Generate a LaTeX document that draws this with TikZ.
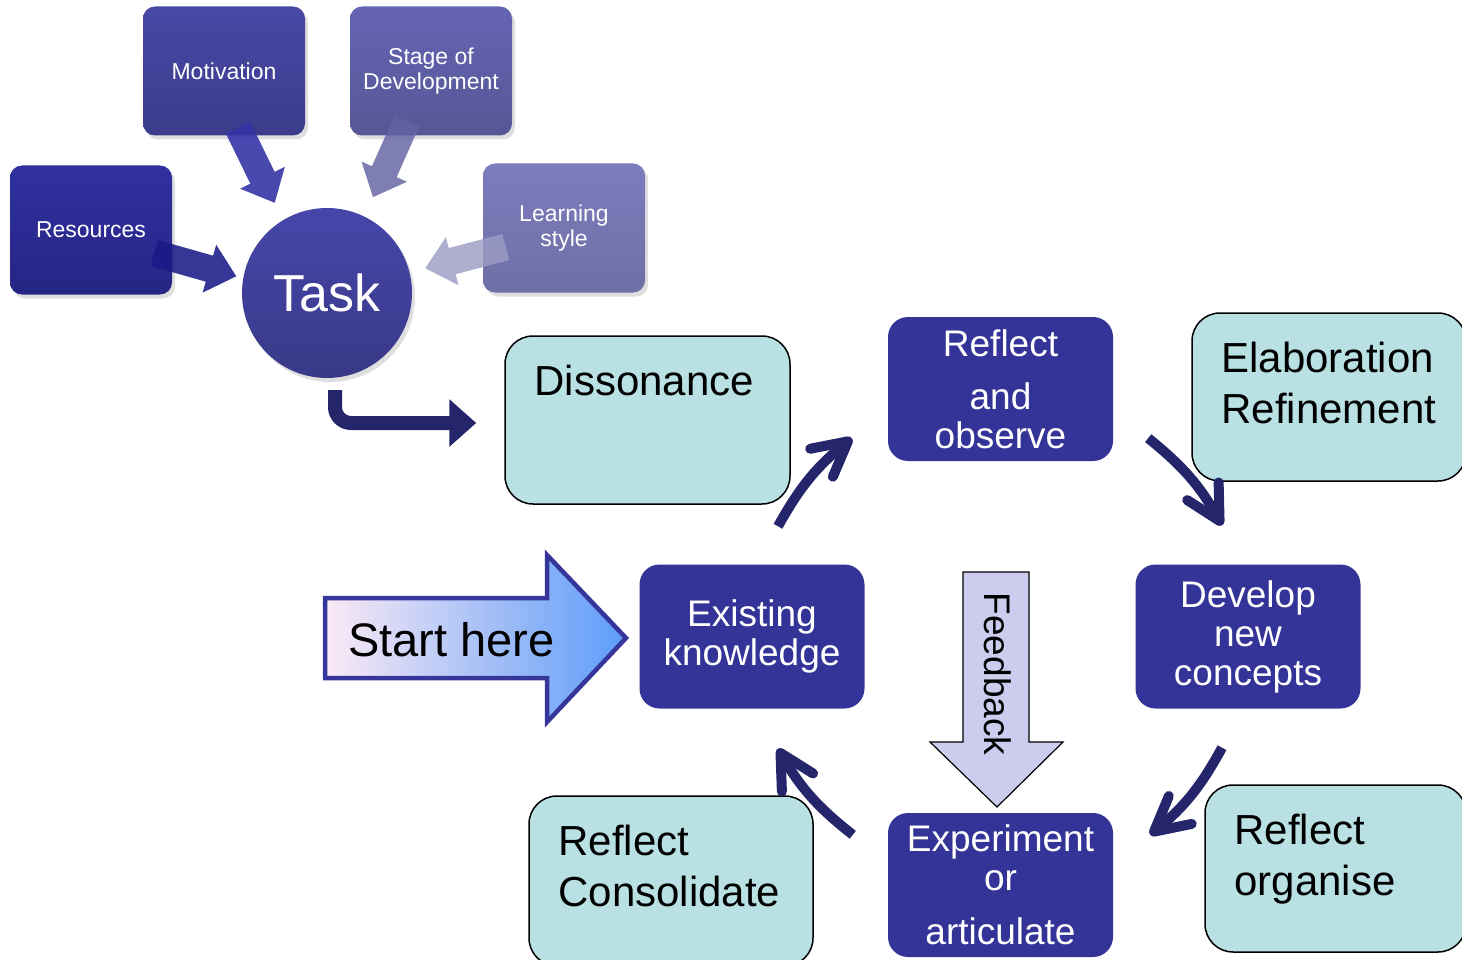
\documentclass[tikz,border=0pt]{standalone}
\usepackage{fontspec}
\setmainfont{Liberation Sans}
\usepackage{xcolor}
\usepackage{tikz}
\usetikzlibrary{positioning, arrows.meta, shadows}

\definecolor{navyarrow}{HTML}{25256B}
\definecolor{boxblue}{HTML}{343498}
\definecolor{tealfill}{HTML}{B9E0E3}
\definecolor{feedfill}{HTML}{CCCCEE}
\definecolor{startpink}{HTML}{FCEAF6}
\definecolor{startmid}{HTML}{8CC6FA}
\definecolor{startblue}{HTML}{5C9CF8}
\definecolor{startedge}{HTML}{35359A}
\definecolor{restop}{HTML}{3030A0}
\definecolor{resbot}{HTML}{252585}
\definecolor{mottop}{HTML}{4848A6}
\definecolor{motbot}{HTML}{3C3C8C}
\definecolor{stagetop}{HTML}{6464B4}
\definecolor{stagebot}{HTML}{575796}
\definecolor{learntop}{HTML}{7C7CBE}
\definecolor{learnbot}{HTML}{6F6FA6}
\definecolor{tasktop}{HTML}{4646AA}
\definecolor{taskbot}{HTML}{393988}
\definecolor{resarrow}{HTML}{1A1A88}
\definecolor{motarrow}{HTML}{3434A6}
\definecolor{stagearrow}{HTML}{6262A2}
\definecolor{learnarrow}{HTML}{9C9CC4}

\newcommand{\fsz}[2]{\fontsize{#1}{#2}\selectfont}

\begin{document}
\begin{tikzpicture}[x=1pt, y=-1pt,
    topbox/.style={rounded corners=12pt, minimum width=162pt, minimum height=129pt,
        text=white, align=center, font=\fsz{23}{25},
        drop shadow={shadow xshift=3pt, shadow yshift=-4pt, opacity=0.25}},
    fatarrow/.style={line width=27pt, -{Triangle[length=28pt, width=48pt]}},
    darkbox/.style={fill=boxblue, rounded corners=20pt, minimum width=225pt,
        minimum height=144pt, text=white, align=center, font=\fsz{37}{39}},
    tealbox/.style={draw=black, line width=1.5pt, fill=tealfill, rounded corners=28pt, inner sep=0pt},
    tealtext/.style={anchor=north west, align=left, inner sep=0pt, xshift=30pt, yshift=-30pt,
        font=\fsz{42}{51}},
    cycarrow/.style={navyarrow, line width=10pt, -{Straight Barb[length=34pt, width=36pt, round]}}]

    \useasboundingbox (0,0) rectangle (1462,960);
    \clip (0,0) rectangle (1462,960);

    % What feeds the task
    \node[topbox, top color=restop, bottom color=resbot] (res) at (91,230) {Resources};
    \node[topbox, top color=mottop, bottom color=motbot] (mot) at (224,71) {Motivation};
    \node[topbox, top color=stagetop, bottom color=stagebot] (stage) at (431,71) {Stage of\\Development};
    \node[topbox, top color=learntop, bottom color=learnbot] (learn) at (564,228) {Learning\\style};

    % Task circle
    \node[circle, minimum size=170pt, text=white, font=\fsz{52}{52},
        top color=tasktop, bottom color=taskbot,
        drop shadow={shadow xshift=3pt, shadow yshift=-4pt, opacity=0.25}] (task) at (327,293) {Task};

    % Fat arrows into the task
    \begin{scope}[transparency group, opacity=0.88]
        \draw[fatarrow, resarrow, shorten >=7pt] ([xshift=-18pt, yshift=-23pt]res.east) -- (task.170);
    \end{scope}
    \begin{scope}[transparency group, opacity=0.9]
        \draw[fatarrow, motarrow, shorten >=19pt] ([xshift=14pt, yshift=8pt]mot.south) -- (task.121);
    \end{scope}
    \begin{scope}[transparency group, opacity=0.82]
        \draw[fatarrow, stagearrow, shorten >=21pt] ([xshift=-24pt, yshift=15pt]stage.south) -- (task.64);
    \end{scope}
    \begin{scope}[transparency group, opacity=0.82]
        \draw[fatarrow, learnarrow, shorten >=16pt] ([xshift=23pt, yshift=-19pt]learn.west) -- (task.14);
    \end{scope}

    % Light boxes
    \node[tealbox, minimum width=285pt, minimum height=168pt,
        label={[tealtext]north west:Dissonance}] (diss) at (647.5,420) {};
    \node[tealbox, minimum width=274pt, minimum height=168pt,
        label={[tealtext]north west:Elaboration\\Refinement}] (elab) at (1329,397) {};
    \node[tealbox, minimum width=261pt, minimum height=167pt,
        label={[tealtext]north west:Reflect\\organise}] (organise) at (1335.5,868.5) {};
    \node[tealbox, minimum width=284pt, minimum height=170pt,
        label={[tealtext]north west:Reflect\\Consolidate}] (consol) at (671,881) {};

    % Task to dissonance
    \draw[navyarrow, line width=14pt, rounded corners=16pt, -{Triangle[length=27pt, width=46pt]}]
        ([xshift=8pt, yshift=-12pt]task.south) |- ([xshift=-28pt, yshift=-3pt]diss.west);

    % Cycle boxes
    \node[darkbox] (reflobs) at (1000.5,389) {Reflect\\[14pt]and\\observe};
    \node[darkbox] (develop) at (1248,636.5) {Develop\\new\\concepts};
    \node[darkbox] (exist) at (752,636.5) {Existing\\knowledge};
    \node[darkbox] (exper) at (1000.5,885) {Experiment\\or\\[15pt]articulate};

    % Cycle arrows
    \draw[cycarrow] ([xshift=26pt, yshift=38pt]exist.north) to[bend left=11] ([xshift=-36pt, yshift=23pt]reflobs.south west);
    \draw[cycarrow] ([xshift=35pt, yshift=23pt]reflobs.south east) to[bend left=11] ([xshift=-26pt, yshift=39pt]develop.north);
    \draw[cycarrow] ([xshift=-26pt, yshift=-39pt]develop.south) to[bend left=11] ([xshift=37pt, yshift=-22pt]exper.north east);
    \draw[cycarrow] ([xshift=-35pt, yshift=-22pt]exper.north west) to[bend left=11] ([xshift=26pt, yshift=-40pt]exist.south);

    % Start here arrow
    \path[draw=startedge, line width=4.5pt, left color=startpink, middle color=startmid, right color=startblue]
        (325,598) -- (547,598) -- (547,555) -- (626,638) -- (547,722) -- (547,678) -- (325,678) -- cycle;
    \node[anchor=base west, inner sep=0pt, font=\fsz{47}{47}] (start) at (348,656) {Start here};

    % Feedback arrow
    \path[draw=black, line width=1.2pt, fill=feedfill]
        (963,572) -- (1029,572) -- (1029,742) -- (1063,742) -- (997,807) -- (930,742) -- (963,742) -- cycle;
    \node[rotate=-90, inner sep=0pt, font=\fsz{37}{37}] (feedback) at (997.5,674) {Feedback};
\end{tikzpicture}
\end{document}
